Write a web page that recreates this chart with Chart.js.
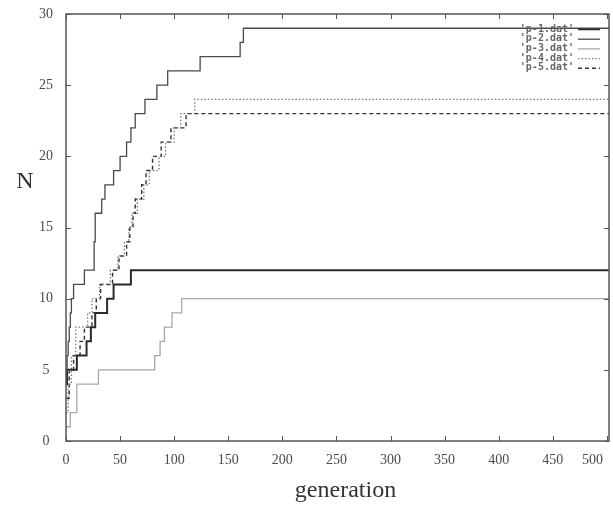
<!DOCTYPE html>
<html>
<head>
<meta charset="utf-8">
<script src="https://cdn.jsdelivr.net/npm/chart.js@4/dist/chart.umd.min.js"></script>
<style>
  html, body { margin: 0; padding: 0; background: #fff; }
  #wrap { width: 613px; height: 507px; }
</style>
</head>
<body>
<div id="wrap"><canvas id="c" width="613" height="507"></canvas></div>
<script>
// ---- data ----
const seriesLabels = ["'p-1.dat'", "'p-2.dat'", "'p-3.dat'", "'p-4.dat'", "'p-5.dat'"];

const p1Gen = [0, 1, 10, 19, 23, 27, 38, 44, 60, 502];
const p1N   = [4, 5, 6, 7, 8, 9, 10, 11, 12, 12];

const p2Gen = [0, 1, 2, 3, 4, 5, 7, 17, 26, 27, 33, 36, 44, 50, 56, 60, 62, 64, 73, 84, 94, 124, 161, 164, 502];
const p2N   = [5, 6, 7, 8, 9, 10, 11, 12, 14, 16, 17, 18, 19, 20, 21, 22, 22, 23, 24, 25, 26, 27, 28, 29, 29];

const p3Gen = [0, 4, 10, 30, 82, 87, 91, 98, 107, 502];
const p3N   = [1, 2, 4, 5, 6, 7, 8, 9, 10, 10];

const p4Gen = [0, 2, 5, 9, 20, 24, 31, 41, 48, 54, 58, 61, 66, 72, 77, 86, 92, 100, 106, 119, 502];
const p4N   = [2, 4, 6, 8, 9, 10, 11, 12, 13, 14, 15, 16, 17, 18, 19, 20, 21, 22, 23, 24, 24];

const p5Gen = [0, 3, 7, 13, 17, 24, 28, 32, 43, 49, 56, 59, 62, 64, 70, 74, 80, 88, 97, 111, 502];
const p5N   = [3, 5, 6, 7, 8, 9, 10, 11, 12, 13, 14, 15, 16, 17, 18, 19, 20, 21, 22, 23, 23];

const xTicks = [0, 50, 100, 150, 200, 250, 300, 350, 400, 450, 500];
const yTicks = [0, 5, 10, 15, 20, 25, 30];
const xTitle = 'generation';
const yTitle = 'N';

// ---- build ----
const pts = (g, n) => g.map((v, i) => ({ x: v, y: n[i] }));
const styles = [
  { color: '#2a2a2a', width: 2.0, dash: [] },
  { color: '#4a4a4a', width: 1.3, dash: [] },
  { color: '#a8a8a8', width: 1.3, dash: [] },
  { color: '#7a7a7a', width: 1.3, dash: [1.5, 2] },
  { color: '#333333', width: 1.4, dash: [4, 3] }
];
const gens = [p1Gen, p2Gen, p3Gen, p4Gen, p5Gen];
const vals = [p1N, p2N, p3N, p4N, p5N];

const datasets = seriesLabels.map((lab, i) => ({
  label: lab,
  data: pts(gens[i], vals[i]),
  borderColor: styles[i].color,
  borderWidth: styles[i].width,
  borderDash: styles[i].dash,
  stepped: 'before',
  pointRadius: 0,
  fill: false
}));

const framePlugin = {
  id: 'frame',
  afterDatasetsDraw(chart) {
    const { ctx, chartArea: a, scales: { x, y } } = chart;
    ctx.save();
    ctx.strokeStyle = '#555';
    ctx.lineWidth = 1.5;
    ctx.setLineDash([]);
    ctx.strokeRect(a.left, a.top, a.right - a.left, a.bottom - a.top);
    ctx.lineWidth = 1;
    const tl = 5;
    xTicks.forEach(v => {
      const px = Math.round(x.getPixelForValue(v)) + 0.5;
      ctx.beginPath();
      ctx.moveTo(px, a.bottom); ctx.lineTo(px, a.bottom - tl);
      ctx.moveTo(px, a.top); ctx.lineTo(px, a.top + tl);
      ctx.stroke();
    });
    yTicks.forEach(v => {
      const py = Math.round(y.getPixelForValue(v)) + 0.5;
      ctx.beginPath();
      ctx.moveTo(a.left, py); ctx.lineTo(a.left + tl, py);
      ctx.moveTo(a.right, py); ctx.lineTo(a.right - tl, py);
      ctx.stroke();
    });
    ctx.fillStyle = '#4a4a4a';
    ctx.font = '14px "Liberation Serif", serif';
    ctx.textBaseline = 'middle';
    ctx.textAlign = 'center';
    xTicks.forEach(v => {
      const label = String(v);
      const w = ctx.measureText(label).width;
      let px = x.getPixelForValue(v);
      px = Math.min(px, chart.width - w / 2 - 10);
      ctx.fillText(label, px, a.bottom + 19);
    });
    yTicks.forEach(v => {
      ctx.fillText(String(v), 46, y.getPixelForValue(v));
    });
    ctx.fillStyle = '#333';
    ctx.font = '24px "Liberation Serif", serif';
    ctx.fillText(xTitle, (a.left + a.right) / 2 + 8, a.bottom + 50);
    ctx.fillText(yTitle, 25, y.getPixelForValue(18.2));
    ctx.font = 'bold 10px "DejaVu Sans Mono", monospace';
    ctx.textAlign = 'right';
    chart.data.datasets.forEach((ds, i) => {
      const ly = 29 + i * 9.7;
      ctx.fillStyle = '#666';
      ctx.fillText(ds.label, 574, ly);
      ctx.strokeStyle = ds.borderColor;
      ctx.lineWidth = Math.min(ds.borderWidth, 1.5);
      ctx.setLineDash(ds.borderDash);
      ctx.beginPath();
      ctx.moveTo(578, ly + 0.5); ctx.lineTo(600, ly + 0.5);
      ctx.stroke();
    });
    ctx.restore();
  }
};

new Chart(document.getElementById('c'), {
  type: 'line',
  data: { datasets },
  options: {
    responsive: false,
    animation: false,
    layout: { padding: { left: 66, top: 14, right: 4, bottom: 66 } },
    plugins: { legend: { display: false }, tooltip: { enabled: false } },
    scales: {
      x: { type: 'linear', min: 0, max: 502, display: false },
      y: { type: 'linear', min: 0, max: 30, display: false }
    }
  },
  plugins: [framePlugin]
});
</script>
</body>
</html>
